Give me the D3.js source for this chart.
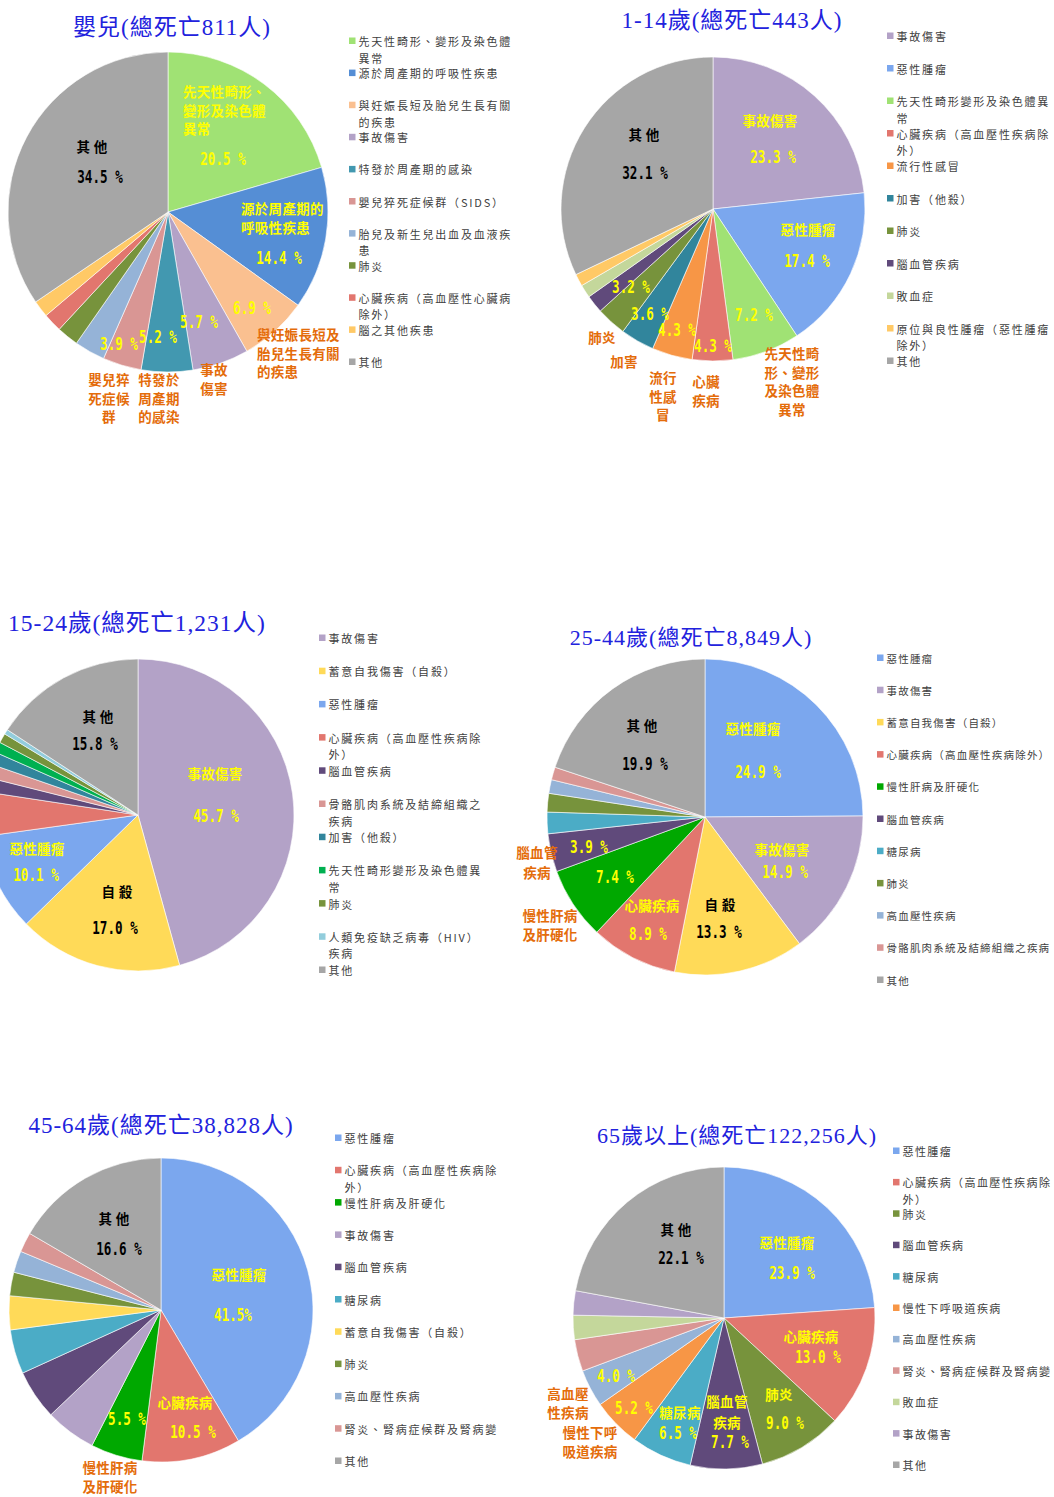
<!DOCTYPE html>
<html><head><meta charset="utf-8">
<script src="https://cdn.jsdelivr.net/npm/d3@7"></script>
<style>body{margin:0;background:#fff} svg{display:block}</style>
</head><body>
<script>
// ---------------- data ----------------
const infantTitle = "嬰兒(總死亡811人)";
const infantCategories = ["先天性畸形、變形及染色體異常","源於周產期的呼吸性疾患","與妊娠長短及胎兒生長有關的疾患","事故傷害","特發於周產期的感染","嬰兒猝死症候群（SIDS）","胎兒及新生兒出血及血液疾患","肺炎","心臟疾病（高血壓性心臟病除外）","腦之其他疾患","其他"];
const infantValues = [20.5,14.4,6.9,5.7,5.2,3.9,3.1,2.2,1.9,1.7,34.5];

const childTitle = "1-14歲(總死亡443人)";
const childCategories = ["事故傷害","惡性腫瘤","先天性畸形變形及染色體異常","心臟疾病（高血壓性疾病除外）","流行性感冒","加害（他殺）","肺炎","腦血管疾病","敗血症","原位與良性腫瘤（惡性腫瘤除外）","其他"];
const childValues = [23.3,17.4,7.2,4.3,4.3,3.6,3.2,1.9,1.4,1.3,32.1];

const youthTitle = "15-24歲(總死亡1,231人)";
const youthCategories = ["事故傷害","蓄意自我傷害（自殺）","惡性腫瘤","心臟疾病（高血壓性疾病除外）","腦血管疾病","骨骼肌肉系統及結締組織之疾病","加害（他殺）","先天性畸形變形及染色體異常","肺炎","人類免疫缺乏病毒（HIV）疾病","其他"];
const youthValues = [45.7,17.0,10.1,4.6,1.5,1.4,1.3,1.1,1.0,0.5,15.8];

const adultTitle = "25-44歲(總死亡8,849人)";
const adultCategories = ["惡性腫瘤","事故傷害","蓄意自我傷害（自殺）","心臟疾病（高血壓性疾病除外）","慢性肝病及肝硬化","腦血管疾病","糖尿病","肺炎","高血壓性疾病","骨骼肌肉系統及結締組織之疾病","其他"];
const adultValues = [24.9,14.9,13.3,8.9,7.4,3.9,2.2,1.9,1.4,1.3,19.9];

const middleTitle = "45-64歲(總死亡38,828人)";
const middleCategories = ["惡性腫瘤","心臟疾病（高血壓性疾病除外）","慢性肝病及肝硬化","事故傷害","腦血管疾病","糖尿病","蓄意自我傷害（自殺）","肺炎","高血壓性疾病","腎炎、腎病症候群及腎病變","其他"];
const middleValues = [41.5,10.5,5.5,5.4,5.3,4.7,3.6,2.5,2.3,2.1,16.6];

const elderTitle = "65歲以上(總死亡122,256人)";
const elderCategories = ["惡性腫瘤","心臟疾病（高血壓性疾病除外）","肺炎","腦血管疾病","糖尿病","慢性下呼吸道疾病","高血壓性疾病","腎炎、腎病症候群及腎病變","敗血症","事故傷害","其他"];
const elderValues = [23.9,13.0,9.0,7.7,6.5,5.2,4.0,3.4,2.6,2.6,22.1];

// ---------------- styles ----------------
const infantColors = ["#A0E274","#558ED5","#FAC090","#B3A2C7","#4298B0","#D99694","#95B3D7","#77933C","#E2766E","#FFC966","#A6A6A6"];
const childColors  = ["#B3A2C7","#7BA7EE","#A0E274","#E2766E","#F79646","#31859C","#77933C","#604A7B","#C4D79B","#FFC966","#A6A6A6"];
const youthColors  = ["#B3A2C7","#FFDA58","#7BA7EE","#E2766E","#604A7B","#D99694","#31859C","#00B050","#77933C","#92CDDC","#A6A6A6"];
const adultColors  = ["#7BA7EE","#B3A2C7","#FFDA58","#E2766E","#00A800","#604A7B","#4BACC6","#77933C","#95B3D7","#D99694","#A6A6A6"];
const middleColors = ["#7BA7EE","#E2766E","#00A800","#B3A2C7","#604A7B","#4BACC6","#FFDA58","#77933C","#95B3D7","#D99694","#A6A6A6"];
const elderColors  = ["#7BA7EE","#E2766E","#77933C","#604A7B","#4BACC6","#F79646","#95B3D7","#D99694","#C4D79B","#B3A2C7","#A6A6A6"];

const labelFill = {y:"#FFFF00", k:"#000000", o:"#E46C0A"};

// ---------------- layout ----------------
const panels = [
 {title:infantTitle, cats:infantCategories, vals:infantValues, cols:infantColors,
  cx:168, cy:212, r:160, tx:172, ty:27, ts:23,
  lx:349, ly:41, step:32.1, lfs:11, lls:1.8, wrap:12,
  labels:[
   {t:["先天性畸形、","變形及染色體","異常"], x:183, y:91, k:"y", a:"start"},
   {t:["源於周產期的","呼吸性疾患"], x:241, y:208, k:"y", a:"start"},
   {t:["其 他"], x:92, y:146, k:"k"},
   {t:["與妊娠長短及","胎兒生長有關","的疾患"], x:257, y:334, k:"o", a:"start"},
   {t:["事故","傷害"], x:214, y:369, k:"o"},
   {t:["嬰兒猝","死症候","群"], x:109, y:379, k:"o"},
   {t:["特發於","周產期","的感染"], x:159, y:379, k:"o"}],
  pcts:[[0,223,159,"y"],[1,279,258,"y"],[2,252,308,"y"],[3,199,322,"y"],[4,158,337,"y"],[5,119,344,"y"],[10,100,177,"k"]]},
 {title:childTitle, cats:childCategories, vals:childValues, cols:childColors,
  cx:713, cy:209, r:152, tx:732, ty:20, ts:23,
  lx:887, ly:36, step:32.5, lfs:11, lls:1.8, wrap:12,
  labels:[
   {t:["事故傷害"], x:770, y:120, k:"y"},
   {t:["惡性腫瘤"], x:808, y:229, k:"y"},
   {t:["其 他"], x:644, y:134, k:"k"},
   {t:["肺炎"], x:602, y:337, k:"o"},
   {t:["加害"], x:624, y:361, k:"o"},
   {t:["流行","性感","冒"], x:663, y:377, k:"o"},
   {t:["心臟","疾病"], x:706, y:381, k:"o"},
   {t:["先天性畸","形、變形","及染色體","異常"], x:792, y:353, k:"o"}],
  pcts:[[0,773,157,"y"],[1,807,261,"y"],[2,754,315,"y"],[3,713,346,"y"],[4,677,330,"y"],[5,650,314,"y"],[6,631,287,"y"],[10,645,173,"k"]]},
 {title:youthTitle, cats:youthCategories, vals:youthValues, cols:youthColors,
  cx:138, cy:815, r:156, tx:137, ty:623, ts:23.5,
  lx:319, ly:638, step:33.2, lfs:11, lls:1.8, wrap:12,
  labels:[
   {t:["事故傷害"], x:215, y:773, k:"y"},
   {t:["自 殺"], x:117, y:891, k:"k"},
   {t:["惡性腫瘤"], x:37, y:848, k:"y"},
   {t:["其 他"], x:98, y:716, k:"k"}],
  pcts:[[0,216,816,"y"],[1,115,928,"k"],[2,36,875,"y"],[10,95,744,"k"]]},
 {title:adultTitle, cats:adultCategories, vals:adultValues, cols:adultColors,
  cx:705, cy:817, r:158, tx:691, ty:637, ts:22,
  lx:877, ly:658, step:32.2, lfs:10.5, lls:1.2, wrap:99,
  labels:[
   {t:["惡性腫瘤"], x:753, y:728, k:"y"},
   {t:["事故傷害"], x:782, y:849, k:"y"},
   {t:["自 殺"], x:720, y:904, k:"k"},
   {t:["心臟疾病"], x:652, y:905, k:"y"},
   {t:["其 他"], x:642, y:725, k:"k"},
   {t:["腦血管","疾病"], x:537, y:852, k:"o", lh:20},
   {t:["慢性肝病","及肝硬化"], x:550, y:915, k:"o"}],
  pcts:[[0,758,772,"y"],[1,785,872,"y"],[2,719,932,"k"],[3,648,934,"y"],[4,615,877,"y"],[5,589,847,"y"],[10,645,764,"k"]]},
 {title:middleTitle, cats:middleCategories, vals:middleValues, cols:middleColors,
  cx:161, cy:1310, r:152, tx:161, ty:1125, ts:23,
  lx:335, ly:1138, step:32.3, lfs:11, lls:1.8, wrap:12,
  labels:[
   {t:["惡性腫瘤"], x:239, y:1274, k:"y"},
   {t:["心臟疾病"], x:185, y:1402, k:"y"},
   {t:["其 他"], x:114, y:1218, k:"k"},
   {t:["慢性肝病","及肝硬化"], x:110, y:1467, k:"o"}],
  pcts:[[0,233,1315,"y",""],[1,193,1432,"y"],[2,127,1419,"y"],[10,119,1249,"k"]]},
 {title:elderTitle, cats:elderCategories, vals:elderValues, cols:elderColors,
  cx:724, cy:1318, r:151, tx:737, ty:1135, ts:22,
  lx:893, ly:1151, step:31.4, lfs:11, lls:1.4, wrap:12,
  labels:[
   {t:["惡性腫瘤"], x:787, y:1242, k:"y"},
   {t:["心臟疾病"], x:811, y:1336, k:"y"},
   {t:["肺炎"], x:779, y:1394, k:"y"},
   {t:["腦血管","疾病"], x:727, y:1401, k:"y", lh:21},
   {t:["糖尿病"], x:680, y:1412, k:"y"},
   {t:["其 他"], x:676, y:1229, k:"k"},
   {t:["高血壓","性疾病"], x:568, y:1393, k:"o"},
   {t:["慢性下呼","吸道疾病"], x:590, y:1432, k:"o"}],
  pcts:[[0,792,1273,"y"],[1,818,1357,"y"],[2,785,1423,"y"],[3,730,1442,"y"],[4,678,1433,"y"],[5,634,1408,"y"],[6,616,1376,"y"],[10,681,1258,"k"]]}
];

const CJK = "'Noto Sans CJK TC','Noto Sans CJK SC',sans-serif";

function wrapText(s, maxUnits){
  const lines=[]; let cur="", u=0;
  for(const ch of s){
    const w = ch.charCodeAt(0) < 0x2000 ? 0.5 : 1;
    if(u + w > maxUnits + 0.01){ lines.push(cur); cur=""; u=0; }
    cur += ch; u += w;
  }
  if(cur) lines.push(cur);
  return lines;
}

const svg = d3.select("body").append("svg").attr("width",1054).attr("height",1497)
  .style("background","#fff");

panels.forEach(p=>{
  const g = svg.append("g");
  const pie = d3.pie().sort(null).value(d=>d)(p.vals);
  const arc = d3.arc().innerRadius(0).outerRadius(p.r);
  const color = d3.scaleOrdinal().domain(d3.range(p.vals.length)).range(p.cols);

  g.append("g").attr("transform",`translate(${p.cx},${p.cy})`)
    .selectAll("path").data(pie).join("path")
    .attr("d",arc).attr("fill",(d,i)=>color(i))
    .attr("stroke","#fff").attr("stroke-width",0.6);

  // title
  g.append("text").attr("x",p.tx).attr("y",p.ty)
    .attr("text-anchor","middle").attr("dominant-baseline","central")
    .style("font-family","'Liberation Serif',"+CJK).style("font-size",p.ts+"px")
    .style("letter-spacing","1px").attr("fill","#2222DD").text(p.title);

  // legend
  const lg = g.append("g");
  p.cats.forEach((c,i)=>{
    const y = p.ly + i*p.step;
    lg.append("rect").attr("x",p.lx).attr("y",y-3.5).attr("width",6.5).attr("height",6.5).attr("fill",color(i));
    const lines = wrapText(c,p.wrap);
    lines.forEach((ln,j)=>{
      lg.append("text").attr("x",p.lx+9.5).attr("y",y + j*16.5)
        .attr("dominant-baseline","central")
        .style("font-family",CJK).style("font-size",p.lfs+"px")
        .style("letter-spacing",p.lls+"px").attr("fill","#404040").text(ln);
    });
  });

  // category labels
  p.labels.forEach(L=>{
    const lh = L.lh || 18.5;
    L.t.forEach((ln,j)=>{
      g.append("text").attr("x",L.x).attr("y",L.y + j*lh)
        .attr("text-anchor",L.a||"middle").attr("dominant-baseline","central")
        .style("font-family",CJK).style("font-size","13.5px").style("font-weight","bold")
        .style("letter-spacing","0.3px")
        .attr("fill",labelFill[L.k]).text(ln);
    });
  });

  // percentage labels (values from data)
  p.pcts.forEach(([i,x,y,k,sep])=>{
    const s = p.vals[i].toFixed(1) + (sep===undefined ? " " : sep) + "%";
    g.append("text").attr("transform",`translate(${x},${y}) scale(0.74,1)`)
      .attr("text-anchor","middle").attr("dominant-baseline","central")
      .style("font-family","'DejaVu Sans Mono',monospace").style("font-size","17px")
      .style("font-weight","bold").attr("fill",labelFill[k]).text(s);
  });
});
</script>
</body></html>
